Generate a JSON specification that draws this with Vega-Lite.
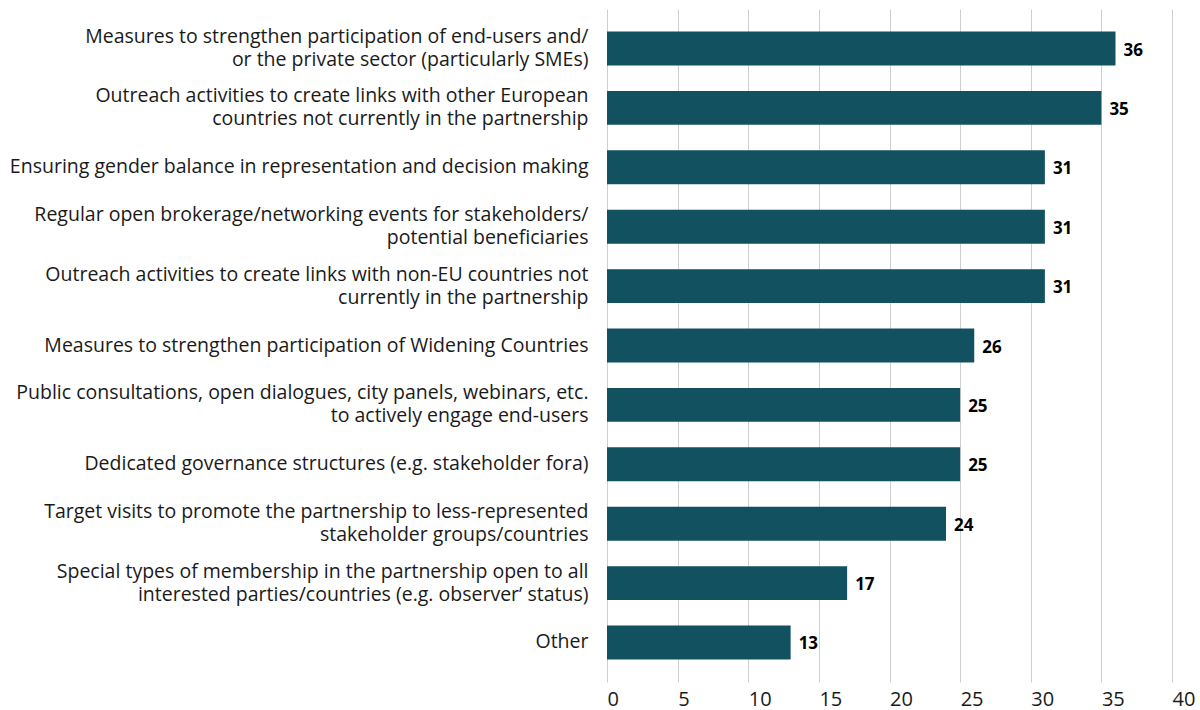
{
  "$schema": "https://vega.github.io/schema/vega-lite/v6.json",
  "autosize": {"type": "none"},
  "width": 565,
  "height": 673,
  "padding": {"left": 607, "top": 9, "right": 28, "bottom": 28},
  "background": "white",
  "config": {
    "view": {"stroke": null},
    "font": "Open Sans"
  },
  "data": {
    "values": [
      {"label": "Measures to strengthen participation of end-users and/|or the private sector (particularly SMEs)", "value": 36},
      {"label": "Outreach activities to create links with other European|countries not currently in the partnership", "value": 35},
      {"label": "Ensuring gender balance in representation and decision making", "value": 31},
      {"label": "Regular open brokerage/networking events for stakeholders/|potential beneficiaries", "value": 31},
      {"label": "Outreach activities to create links with non-EU countries not|currently in the partnership", "value": 31},
      {"label": "Measures to strengthen participation of Widening Countries", "value": 26},
      {"label": "Public consultations, open dialogues, city panels, webinars, etc.|to actively engage end-users", "value": 25},
      {"label": "Dedicated governance structures (e.g. stakeholder fora)", "value": 25},
      {"label": "Target visits to promote the partnership to less-represented|stakeholder groups/countries", "value": 24},
      {"label": "Special types of membership in the partnership open to all|interested parties/countries (e.g. observer’ status)", "value": 17},
      {"label": "Other", "value": 13}
    ]
  },
  "encoding": {
    "y": {
      "field": "label",
      "type": "nominal",
      "sort": null,
      "scale": {"paddingInner": 0.43, "paddingOuter": 0.38},
      "axis": {
        "title": null,
        "domain": false,
        "ticks": false,
        "labelExpr": "split(datum.label, '|')",
        "labelFontSize": 19.5,
        "labelColor": "#1a1a1a",
        "labelPadding": 19,
        "labelLineHeight": 23,
        "labelLimit": 700,
        "labelFont": "Open Sans",
        "labelFontWeight": 400,
        "labelOffset": {"condition": {"test": "indexof(datum.value, '|') >= 0", "value": -11.5}, "value": 0}
      }
    },
    "x": {
      "field": "value",
      "type": "quantitative",
      "scale": {"domain": [0, 40], "nice": false},
      "axis": {
        "title": null,
        "values": [0, 5, 10, 15, 20, 25, 30, 35, 40],
        "domain": false,
        "ticks": false,
        "grid": true,
        "gridColor": "#cfcfcf",
        "gridWidth": 1,
        "labelAlign": "left",
        "labelBaseline": "top",
        "labelPadding": 7,
        "labelFontSize": 20,
        "labelColor": "#1a1a1a",
        "labelFont": "Open Sans",
        "labelFontWeight": 400,
        "labelFlush": false
      }
    }
  },
  "layer": [
    {"mark": {"type": "bar", "color": "#12515f"}},
    {
      "mark": {"type": "text", "align": "left", "baseline": "middle", "dx": 8, "dy": 2, "fontSize": 17, "fontWeight": "bold", "color": "#000000", "font": "Open Sans"},
      "encoding": {"text": {"field": "value", "type": "quantitative"}}
    }
  ]
}
